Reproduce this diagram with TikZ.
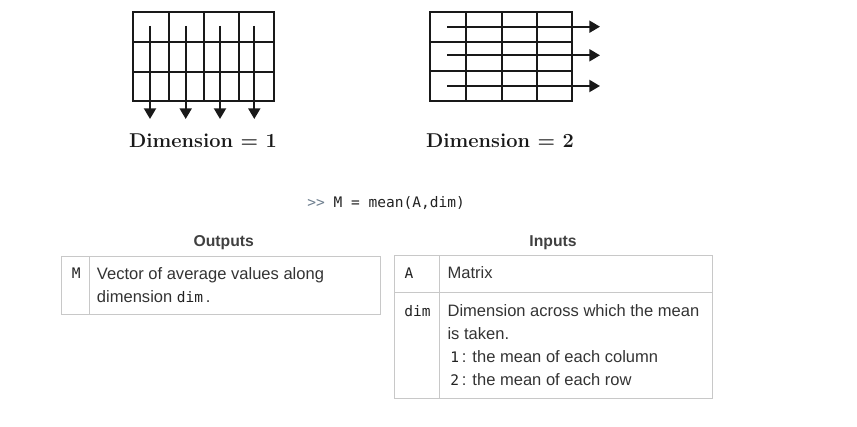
\documentclass[tikz,border=0pt]{standalone}
\usepackage{fontspec}
\usetikzlibrary{arrows.meta}
\newfontfamily\tblsans{Liberation Sans}
\newfontfamily\tblmono{DejaVu Sans Mono}
\definecolor{txtgray}{HTML}{333333}
\definecolor{titlegray}{HTML}{404040}
\definecolor{rulegray}{HTML}{C8C8C8}
\definecolor{promptgray}{HTML}{6F7F8F}
\definecolor{codeblack}{HTML}{222222}
\newcommand{\codetxt}[1]{{\tblmono\fontsize{10.9}{17}\selectfont\color{codeblack}#1}}
\tikzset{
  gridline/.style={line width=1.5pt, black!90},
  dimarrow/.style={line width=1.5pt, black!90, -{Triangle[width=9pt,length=8pt]}},
  tblrule/.style={line width=0.75pt, rulegray},
  celltxt/.style={anchor=base west, inner sep=0pt, text=txtgray, font=\tblsans\fontsize{12.4}{17}\selectfont},
  cellcode/.style={anchor=base west, inner sep=0pt, text=codeblack, font=\tblmono\fontsize{10.9}{17}\selectfont},
  tbltitle/.style={anchor=base, inner sep=0pt, text=titlegray, font=\tblsans\bfseries\fontsize{11.8}{14}\selectfont},
  dimlabel/.style={anchor=base, inner sep=0pt, text=black!90, font=\bfseries\fontsize{15}{17}\selectfont},
}
\begin{document}
\begin{tikzpicture}[x=0.75pt,y=0.75pt,yscale=-1,xscale=1]
\useasboundingbox (0,0) rectangle (857,427);

%Shape: Grid (dimension 1)
\draw [gridline] (133,12) rectangle (274,101) ;
\draw [gridline] (169,12) -- (169,101) ;
\draw [gridline] (204,12) -- (204,101) ;
\draw [gridline] (239,12) -- (239,101) ;
\draw [gridline] (133,42) -- (274,42) ;
\draw [gridline] (133,72) -- (274,72) ;
%Arrows down the columns
\coordinate (colAs) at (150,26) ; \coordinate (colAe) at (150,119) ;
\coordinate (colBs) at (185.7,26) ; \coordinate (colBe) at (185.7,119) ;
\coordinate (colCs) at (220,26) ; \coordinate (colCe) at (220,119) ;
\coordinate (colDs) at (254.3,26) ; \coordinate (colDe) at (254.3,119) ;
\draw [dimarrow] (colAs) -- (colAe) ;
\draw [dimarrow] (colBs) -- (colBe) ;
\draw [dimarrow] (colCs) -- (colCe) ;
\draw [dimarrow] (colDs) -- (colDe) ;

%Shape: Grid (dimension 2)
\draw [gridline] (430,12.5) rectangle (571.5,101.5) ;
\draw [gridline] (466,12.5) -- (466,101.5) ;
\draw [gridline] (501.5,12.5) -- (501.5,101.5) ;
\draw [gridline] (536.5,12.5) -- (536.5,101.5) ;
\draw [gridline] (430,41.7) -- (571.5,41.7) ;
\draw [gridline] (430,71) -- (571.5,71) ;
%Arrows along the rows
\coordinate (rowAs) at (447.3,26.7) ; \coordinate (rowAe) at (600,26.7) ;
\coordinate (rowBs) at (447.3,55.3) ; \coordinate (rowBe) at (600,55.3) ;
\coordinate (rowCs) at (447.3,86) ; \coordinate (rowCe) at (600,86) ;
\draw [dimarrow] (rowAs) -- (rowAe) ;
\draw [dimarrow] (rowBs) -- (rowBe) ;
\draw [dimarrow] (rowCs) -- (rowCe) ;

% Text Node
\draw (203,148) node (dimOne) [dimlabel] {Dimension = 1};
% Text Node
\draw (500,148) node (dimTwo) [dimlabel] {Dimension = 2};
% Text Node
\draw (307,208) node (callLine) [cellcode] {{\color{promptgray}{>}{>}} M = mean(A,dim)};

%Shape: Table (outputs)
\draw [tblrule] (61.5,256.5) rectangle (380.5,314.5) ;
\draw [tblrule] (89.5,256.5) -- (89.5,314.5) ;
% Text Node
\draw (223.7,247) node (outTitle) [tbltitle] {Outputs};
% Text Node
\draw (71.7,279) node (outName) [cellcode] {M};
% Text Node
\draw (96.7,280) node (outDescA) [celltxt] {Vector of average values along};
% Text Node
\draw (96.7,303) node (outDescB) [celltxt] {dimension \codetxt{dim}\,.};

%Shape: Table (inputs)
\draw [tblrule] (394.5,255.5) rectangle (712.5,399) ;
\draw [tblrule] (394.5,292.5) -- (712.5,292.5) ;
\draw [tblrule] (439.5,255.5) -- (439.5,399) ;
% Text Node
\draw (553,247) node (inTitle) [tbltitle] {Inputs};
% Text Node
\draw (404.3,279) node (inNameA) [cellcode] {A};
% Text Node
\draw (447.3,279) node (inDescA) [celltxt] {Matrix};
% Text Node
\draw (404,317) node (inNameB) [cellcode] {dim};
% Text Node
\draw (447.3,317) node (inDescB) [celltxt] {Dimension across which the mean};
% Text Node
\draw (447.3,340) node (inDescC) [celltxt] {is taken.};
% Text Node
\draw (450,363) node (inDescD) [celltxt] {\codetxt{1}\,: the mean of each column};
% Text Node
\draw (450,386) node (inDescE) [celltxt] {\codetxt{2}\,: the mean of each row};

\end{tikzpicture}
\end{document}
